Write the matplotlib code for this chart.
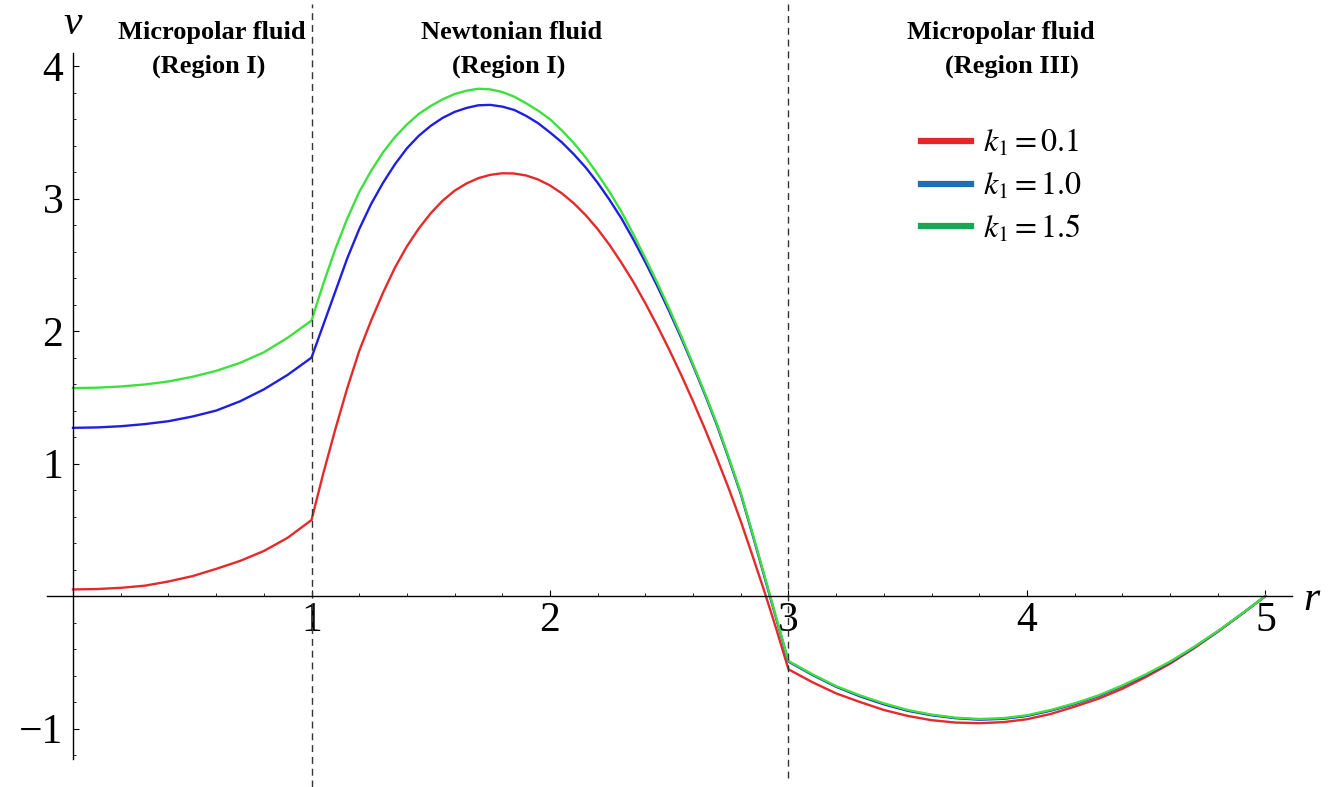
import numpy as np
import matplotlib
matplotlib.use("Agg")
import matplotlib.pyplot as plt
from matplotlib.lines import Line2D
from matplotlib.ticker import MultipleLocator, FixedLocator

plt.rcParams["font.family"] = ["Liberation Serif", "DejaVu Serif"]
plt.rcParams["mathtext.fontset"] = "stix"

# radial grid: region I (0..1), Newtonian gap (1..3, finer), region III (3..5)
r = np.concatenate([np.linspace(0.0, 1.0, 11),
                    np.linspace(1.05, 3.0, 40),
                    np.linspace(3.1, 5.0, 20)])

# velocity profiles v(r) for the three coupling numbers
v_k01 = [0.05, 0.053, 0.062, 0.078, 0.11, 0.15, 0.205, 0.265, 0.34, 0.44, 0.574,
         0.93, 1.26, 1.57, 1.85, 2.08, 2.29, 2.48, 2.64, 2.775, 2.89,
         2.985, 3.06, 3.115, 3.155, 3.18, 3.192, 3.19, 3.175, 3.145, 3.10,
         3.04, 2.965, 2.875, 2.77, 2.65, 2.515, 2.37, 2.21, 2.04, 1.86,
         1.67, 1.47, 1.26, 1.04, 0.81, 0.565, 0.30, 0.03, -0.255, -0.553,
         -0.65, -0.735, -0.80, -0.86, -0.905, -0.937, -0.955, -0.96, -0.952, -0.93,
         -0.89, -0.835, -0.775, -0.70, -0.61, -0.51, -0.395, -0.27, -0.137, 0.0]
v_k10 = [1.27, 1.273, 1.282, 1.298, 1.32, 1.355, 1.40, 1.47, 1.56, 1.67, 1.80,
         2.05, 2.30, 2.55, 2.77, 2.96, 3.12, 3.26, 3.38, 3.475, 3.55,
         3.61, 3.655, 3.685, 3.705, 3.708, 3.695, 3.67, 3.625, 3.57, 3.50,
         3.425, 3.335, 3.235, 3.12, 2.99, 2.85, 2.69, 2.52, 2.34, 2.15,
         1.95, 1.74, 1.52, 1.29, 1.035, 0.77, 0.46, 0.14, -0.18, -0.495,
         -0.595, -0.685, -0.757, -0.817, -0.866, -0.90, -0.922, -0.933, -0.927, -0.905,
         -0.865, -0.815, -0.755, -0.68, -0.595, -0.50, -0.388, -0.267, -0.136, 0.0]
v_k15 = [1.57, 1.573, 1.582, 1.597, 1.62, 1.655, 1.70, 1.76, 1.84, 1.95, 2.08,
         2.36, 2.62, 2.85, 3.05, 3.21, 3.35, 3.465, 3.56, 3.64, 3.70,
         3.75, 3.79, 3.815, 3.83, 3.825, 3.805, 3.77, 3.72, 3.665, 3.60,
         3.515, 3.42, 3.31, 3.185, 3.05, 2.90, 2.73, 2.55, 2.365, 2.17,
         1.965, 1.75, 1.53, 1.30, 1.045, 0.78, 0.47, 0.15, -0.17, -0.49,
         -0.59, -0.68, -0.75, -0.81, -0.86, -0.895, -0.918, -0.928, -0.922, -0.90,
         -0.86, -0.81, -0.75, -0.675, -0.59, -0.495, -0.385, -0.265, -0.135, 0.0]

interfaces = [1.0, 3.0]
labels = ["$k_1 = 0.1$", "$k_1 = 1.0$", "$k_1 = 1.5$"]
curve_colors = ["#e42a2a", "#1f1fe0", "#3ee03e"]
legend_colors = ["#e32626", "#1f6eb5", "#1aa753"]

fig = plt.figure(figsize=(13.41, 7.87), dpi=100)
ax = fig.add_axes([0.0349, 0.0356, 0.9283, 0.8971])
ax.set_xlim(-0.11, 5.11)
ax.set_ylim(-1.23, 4.10)

for v, c in zip([v_k01, v_k10, v_k15], curve_colors):
    ax.plot(r, v, color=c, lw=1.7, solid_joinstyle="round")

# dashed lines at the fluid interfaces
ax.axvline(interfaces[0], ymin=-0.04, ymax=1.07, clip_on=False,
           color="#333333", lw=1.0, ls=(0, (5, 3.5)))
ax.axvline(interfaces[1], ymin=-0.027, ymax=1.07, clip_on=False,
           color="#333333", lw=1.0, ls=(0, (5, 3.5)))

# axes through the origin
for side in ["top", "right"]:
    ax.spines[side].set_visible(False)
ax.spines["left"].set_position(("data", 0))
ax.spines["bottom"].set_position(("data", 0))
ax.spines["left"].set_linewidth(1.0)
ax.spines["bottom"].set_linewidth(1.0)

ax.xaxis.set_major_locator(FixedLocator([1, 2, 3, 4, 5]))
ax.yaxis.set_major_locator(FixedLocator([-1, 1, 2, 3, 4]))
ax.xaxis.set_minor_locator(MultipleLocator(0.2))
ax.yaxis.set_minor_locator(MultipleLocator(0.2))
ax.tick_params(which="major", direction="in", length=4, width=0.8, labelsize=30)
ax.tick_params(which="minor", direction="in", length=2.2, width=0.6)
ax.tick_params(axis="x", pad=4)
ax.tick_params(axis="y", pad=7)

ax.text(0.0, 4.32, "v", style="italic", fontsize=30, ha="center", va="center", clip_on=False)
ax.text(5.195, -0.03, "r", style="italic", fontsize=30, ha="center", va="center", clip_on=False)

# region headings
regions = [(0.583, 0.567, "Micropolar fluid", "(Region I)"),
           (1.84, 1.825, "Newtonian fluid", "(Region I)"),
           (3.89, 3.937, "Micropolar fluid", "(Region III)")]
for x1, x2, top, bottom in regions:
    ax.text(x1, 4.255, top, fontsize=19, fontweight="bold", ha="center", va="center", clip_on=False)
    ax.text(x2, 4.0, bottom, fontsize=19, fontweight="bold", ha="center", va="center", clip_on=False)

handles = [Line2D([0], [0], color=c, lw=4.5) for c in legend_colors]
ax.legend(handles, labels, loc="upper left", frameon=False, fontsize=23,
          bbox_to_anchor=(921 / 1341, 1 - 128 / 787), bbox_transform=fig.transFigure,
          borderpad=0, borderaxespad=0, handlelength=1.55, handletextpad=0.4,
          labelspacing=0.36)

fig.savefig("out.png", dpi=100)
